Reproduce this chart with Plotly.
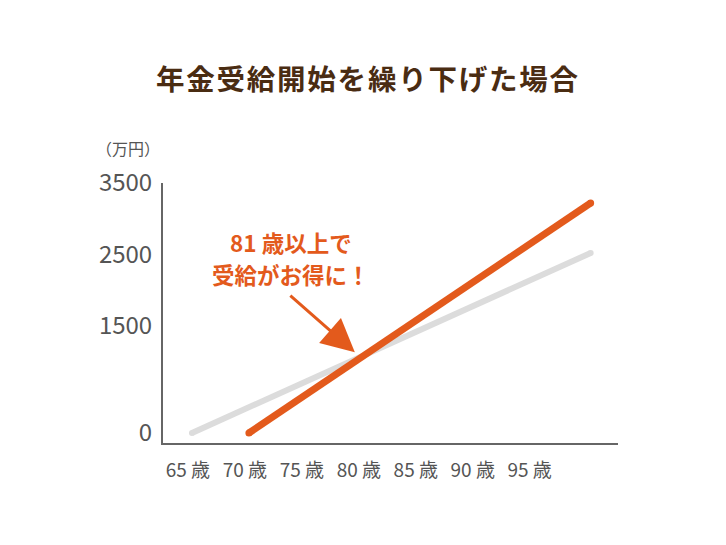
import plotly.graph_objects as go

# cumulative pension received (万円) by age
ages_65 = [65, 100]
total_65 = [0, 2520]
ages_70 = [70, 100]
total_70 = [0, 3220]

tick_ages = [65, 70, 75, 80, 85, 90, 95]
tick_age_text = [f"{a} 歳" for a in tick_ages]
tick_yen = [0, 1500, 2500, 3500]
tick_yen_text = [str(v) for v in tick_yen]

callout_lines = ["81 歳以上で", "受給がお得に！"]

ORANGE = "#E35A1C"
GRAY = "#DCDCDC"
JP = "Noto Sans CJK JP"

# page body has an 8px margin, so the figure is drawn a bit smaller
W, H = 718, 537
L, R, T, B = 155, 108, 175, 102

fig = go.Figure()
fig.add_trace(go.Scatter(x=ages_65, y=total_65, mode="lines+markers",
                         line=dict(color=GRAY, width=6),
                         marker=dict(color=GRAY, size=6)))
fig.add_trace(go.Scatter(x=ages_70, y=total_70, mode="lines+markers",
                         line=dict(color=ORANGE, width=7),
                         marker=dict(color=ORANGE, size=7)))

# callout text (one annotation per line) and arrow
for txt, yy in zip(callout_lines, [2675, 2225]):
    fig.add_annotation(x=73.7, y=yy, text=f"<b>{txt}</b>",
                       showarrow=False, xanchor="center", yanchor="middle",
                       font=dict(family=JP, size=22.5, color=ORANGE))
fig.add_annotation(x=79.3, y=1130, text="", showarrow=True, ax=-66, ay=-58,
                   arrowhead=2, arrowsize=2.2, arrowwidth=3, arrowcolor=ORANGE)

# unit label above y axis
fig.add_annotation(x=-0.077, y=1.135, xref="paper", yref="paper", text="（万円）",
                   showarrow=False, xanchor="center", yanchor="middle",
                   font=dict(family=JP, size=16, color="#555"))

fig.update_layout(
    width=W, height=H,
    margin=dict(l=L, r=R, t=T, b=B, autoexpand=False),
    paper_bgcolor="white", plot_bgcolor="white",
    showlegend=False,
    title=dict(text="<b>" + "\u200a".join("年金受給開始を繰り下げた場合") + "</b>",
               x=0.5, xref="container", xanchor="center",
               y=1 - 72 / H, yref="container", yanchor="middle",
               font=dict(family=JP, size=28.5, color="#4A2C12")),
    font=dict(family=JP, color="#555"),
)
fig.update_xaxes(range=[62.46, 102.4], tickvals=tick_ages, ticktext=tick_age_text,
                 showgrid=False, zeroline=False, showline=True, linecolor="#666",
                 linewidth=2, ticks="", ticklabelstandoff=9, ticklabelshift=-4,
                 tickfont=dict(family=JP, size=19, color="#555"))
fig.update_yaxes(range=[-140, 3500], tickvals=tick_yen, ticktext=tick_yen_text,
                 showgrid=False, zeroline=False, showline=True, linecolor="#666",
                 linewidth=2, ticks="", ticklabelstandoff=4,
                 tickfont=dict(family=JP, size=24, color="#555"))

fig.write_html("out.html")
